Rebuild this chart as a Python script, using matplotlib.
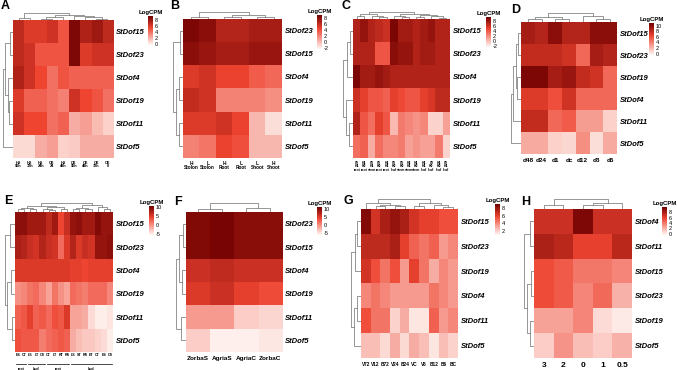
import matplotlib
matplotlib.use("Agg")
import matplotlib.pyplot as plt
import numpy as np
from matplotlib.colors import LinearSegmentedColormap

W, H = 677, 370

# ---- data (LogCPM) ----
A_rows = ["StDof15", "StDof23", "StDof4", "StDof19", "StDof11", "StDof5"]
A_cols = ["HS\n96h", "HS\n72h", "HS\n24h", "CK\n24", "HS\n48h", "CK\n96h", "CK\n48h", "CK\n72h", "CK\n0"]
A_vals = [
    [7.0, 6.0, 6.0, 6.5, 5.0, 9.0, 7.5, 8.0, 7.0],
    [7.0, 6.5, 5.0, 5.0, 5.0, 9.0, 6.0, 6.5, 6.5],
    [7.5, 6.5, 5.5, 4.0, 5.0, 4.5, 4.5, 4.5, 4.5],
    [6.0, 4.5, 4.5, 4.0, 3.5, 6.5, 5.5, 5.0, 4.0],
    [6.5, 5.5, 5.5, 4.0, 4.5, 2.0, 2.5, 1.5, 0.8],
    [0.5, 0.5, 2.0, 2.5, 0.8, 1.0, 2.0, 2.0, 2.0],
]
A_row_tree = (10, (8, (3, 0, 1), (5, 2, (4, 3, 4))), 5)
A_col_tree = (10, (3, 0, 1), (8, (5, (2, 2, 3), 4), (6, 5, (4, 6, (2, 7, 8)))))
A_ticks = [0, 2, 4, 6, 8]

B_rows = ["StDof23", "StDof15", "StDof4", "StDof19", "StDof11", "StDof5"]
B_cols = ["H\nStolon", "L\nStolon", "H\nRoot", "L\nRoot", "L\nShoot", "H\nShoot"]
B_vals = [
    [8.5, 8.0, 6.5, 6.5, 7.0, 7.0],
    [8.0, 7.5, 7.0, 7.0, 7.5, 7.5],
    [5.0, 5.5, 4.5, 4.5, 3.5, 3.0],
    [6.0, 5.5, 2.0, 2.0, 2.0, 1.5],
    [5.0, 5.0, 5.5, 4.5, 0.0, -1.5],
    [2.0, 2.5, 4.5, 4.0, 0.0, 0.0],
]
B_row_tree = (10, (3, 0, 1), (7, (4, 2, 3), (4, 4, 5)))
B_col_tree = (10, (3, 0, 1), (6, (3, 2, 3), (3, 4, 5)))
B_ticks = [-2, 0, 2, 4, 6, 8]

C_rows = ["StDof15", "StDof23", "StDof4", "StDof19", "StDof11", "StDof5"]
C_cols = ["09\nH1\nroot", "H1\nH0\nroot", "09\nH1\nstem", "09\nH0\nroot", "H1\nH1\nroot",
          "09\nH0\nleaf", "09\nH0\nstem", "H1\nH1\nstem", "H1\nH0\nstem", "H1\nH1\nleaf",
          "09\nH0\nleaf", "H1\nH0\nleaf", "09\nH1\nleaf"]
C_vals = [
    [7.0, 8.0, 7.0, 6.5, 6.0, 9.0, 7.5, 7.5, 7.0, 7.5, 8.0, 7.0, 7.0],
    [7.0, 7.0, 7.0, 4.0, 4.0, 8.5, 8.0, 8.0, 7.0, 7.5, 7.5, 7.0, 7.0],
    [9.0, 7.5, 7.5, 8.0, 7.5, 7.0, 7.0, 7.0, 7.0, 7.0, 7.0, 7.0, 7.0],
    [6.0, 5.0, 4.0, 4.0, 3.5, 5.0, 4.5, 4.0, 4.0, 5.0, 5.5, 6.5, 6.5],
    [7.0, 4.0, 3.0, 5.0, 4.0, 0.0, 2.5, 2.0, 1.5, 2.0, -1.0, -1.0, 1.0],
    [3.0, 3.5, 0.5, 3.0, 2.0, 2.0, 2.5, 1.0, 1.5, 1.0, 1.0, 2.5, -1.0],
]
C_row_tree = (10, (6, (3, 0, 1), 2), (7, 3, (4, 4, 5)))
C_col_tree = (10, (7, (4, 0, 1), (5, 2, (3, 3, 4))),
              (8, (4, 5, (3, 6, 7)), (6, (3, 8, 9), (4, 10, (2, 11, 12)))))
C_ticks = [-2, 0, 2, 4, 6, 8]

D_rows = ["StDof15", "StDof23", "StDof19", "StDof4", "StDof11", "StDof5"]
D_cols = ["d48", "d24", "d1", "dc", "d12", "d3", "d6"]
D_vals = [
    [9.0, 8.5, 10.0, 8.5, 8.5, 10.0, 10.0],
    [8.0, 8.0, 8.0, 7.5, 5.0, 9.0, 8.5],
    [10.5, 10.5, 9.0, 9.5, 8.0, 7.5, 5.0],
    [7.0, 7.0, 6.0, 7.5, 5.0, 5.0, 5.0],
    [8.0, 8.0, 5.0, 5.5, 3.0, 3.0, 1.0],
    [2.5, 2.5, 1.0, 0.8, 3.5, 0.5, 2.5],
]
D_row_tree = (10, (8, (5, (3, 0, 1), (4, 2, 3)), 4), 5)
D_col_tree = (10, (6, (3, 0, 1), (4, 2, 3)), (7, 4, (4, 5, 6)))
D_ticks = [0, 2, 4, 6, 8, 10]

E_rows = ["StDof15", "StDof23", "StDof4", "StDof19", "StDof11", "StDof5"]
E_cols = ["ES", "CT", "LS", "LT", "CS", "CT", "LT", "RT", "RS", "LS", "ST", "RS", "ET", "CT", "ES", "CS"]
E_groups = [("root", 0, 2), ("bud", 2, 5), ("root", 5, 9), ("bud", 9, 16)]
E_vals = [
    [9.0, 9.0, 8.0, 8.0, 8.0, 6.5, 8.0, 4.0, 6.0, 8.5, 9.0, 8.0, 8.0, 9.5, 8.5, 8.5],
    [7.5, 7.0, 6.0, 5.5, 7.0, 6.0, 5.5, 2.0, 5.0, 7.0, 5.0, 6.0, 5.5, 8.5, 8.5, 9.0],
    [5.0, 5.0, 5.0, 5.0, 5.0, 5.0, 5.0, 5.0, 5.0, 4.5, 4.5, 4.0, 4.5, 4.5, 4.5, 4.5],
    [0.0, 0.5, 1.5, 2.0, 0.5, -1.0, 1.5, 0.0, -1.0, 2.0, 1.5, 1.0, 2.0, 2.0, 2.0, 0.5],
    [2.5, 3.0, 4.5, 2.5, 3.0, 2.0, 3.5, 3.0, 5.0, -1.0, -1.0, -1.5, -4.0, -5.0, -5.0, -4.5],
    [3.5, 3.0, 3.0, 3.0, 1.0, 2.0, 2.5, 3.0, 2.5, -1.5, -2.5, -3.0, -3.0, -3.5, -4.0, -5.0],
]
E_row_tree = (10, (5, 0, 1), (8, (4, 2, 3), (3, 4, 5)))
E_col_tree = (10, (7, (5, (3, 0, 1), (3, 2, 3)), (6, (3, 4, (2, 5, 6)), (4, 7, 8))),
              (8, (5, (3, 9, 10), (3, 11, 12)), (6, 13, (3, 14, 15))))
E_ticks = [-5, 0, 5, 10]

F_rows = ["StDof23", "StDof15", "StDof4", "StDof19", "StDof11", "StDof5"]
F_cols = ["ZorbaS", "AgriaS", "AgriaC", "ZorbaC"]
F_vals = [
    [10.0, 10.5, 9.5, 9.5],
    [10.0, 10.5, 9.5, 9.5],
    [6.0, 6.5, 6.0, 6.0],
    [5.0, 6.0, 4.5, 3.5],
    [-1.0, -1.0, -4.0, -4.5],
    [-4.0, -6.0, -6.0, -5.5],
]
F_row_tree = (10, (7, (3, 0, 1), (4, 2, 3)), (5, 4, 5))
F_col_tree = (10, (4, 0, 1), (5, 2, 3))
F_ticks = [-5, 0, 5, 10]

G_rows = ["StDof15", "StDof23", "StDof19", "StDof4", "StDof11", "StDof5"]
G_cols = ["V72", "V12", "B72", "V24", "B24", "VC", "V6", "B12", "B6", "BC"]
G_vals = [
    [8.5, 6.5, 7.5, 8.0, 7.5, 6.5, 6.0, 6.0, 5.5, 5.5],
    [7.0, 7.0, 7.0, 7.5, 6.0, 5.0, 4.5, 5.0, 3.5, 4.0],
    [6.5, 5.5, 4.5, 5.5, 3.5, 6.0, 4.5, 3.0, 4.0, 3.5],
    [4.0, 4.5, 4.0, 3.5, 3.5, 3.5, 3.5, 4.5, 4.0, 3.5],
    [5.5, 4.5, 4.5, 2.0, 3.0, 1.5, 1.5, 5.0, 3.5, 4.0],
    [2.5, 2.5, 1.8, 3.0, 1.8, 3.0, 2.5, 1.5, 2.5, 2.0],
]
G_row_tree = (10, (6, (4, 0, 1), 2), (7, (4, 3, 4), 5))
G_col_tree = (10, (6, 0, (4, (3, 1, 2), (3, 3, 4))), (6, (3, 5, 6), (4, 7, (2, 8, 9))))
G_ticks = [2, 4, 6, 8]

H_rows = ["StDof4", "StDof11", "StDof15", "StDof23", "StDof19", "StDof5"]
H_cols = ["3", "2", "0", "1", "0.5"]
H_vals = [
    [7.0, 7.0, 9.5, 7.0, 7.0],
    [8.0, 7.5, 6.0, 6.0, 7.5],
    [5.5, 5.0, 4.0, 4.0, 3.5],
    [5.5, 5.0, 3.5, 4.5, 2.0],
    [2.5, 2.5, 3.5, 0.5, 0.0],
    [1.0, 3.0, 1.5, 1.0, 2.0],
]
H_row_tree = (10, (4, 0, 1), (7, (3, 2, 3), (4, 4, 5)))
H_col_tree = (10, (4, 0, 1), (6, (4, 2, 3), 4))
H_ticks = [0, 2, 4, 6, 8]

plt.rcParams["font.family"] = ["Liberation Sans", "DejaVu Sans"]
plt.rcParams["axes.unicode_minus"] = False
CMAP = LinearSegmentedColormap.from_list(
    "logcpm", [(0.0, "#FFF8F5"), (0.6, "#EE4431"), (1.0, "#700000")])
TREE_COLOR = "#7a7a7a"


def px_axes(fig, x0, y0, x1, y1):
    return fig.add_axes([x0 / W, 1 - y1 / H, (x1 - x0) / W, (y1 - y0) / H])


def draw_tree(ax, node, side):
    if isinstance(node, int):
        return node + 0.5, 0.0
    h, left, right = node
    cl, hl = draw_tree(ax, left, side)
    cr, hr = draw_tree(ax, right, side)
    pos = [cl, cl, cr, cr]
    hts = [hl, h, h, hr]
    if side == "top":
        ax.plot(pos, hts, color=TREE_COLOR, lw=0.55)
    else:
        ax.plot(hts, pos, color=TREE_COLOR, lw=0.55)
    return (cl + cr) / 2, h


def draw_panel(fig, letter, rows, cols, vals, row_tree, col_tree, ticks, lay):
    vals = np.array(vals)
    vmin = min(ticks[0], vals.min()) - 0.5
    vmax = max(ticks[-1], vals.max()) + 0.5
    x0, y0, x1, y1 = lay["heat"]

    ax = px_axes(fig, x0, y0, x1, y1)
    im = ax.imshow(vals, cmap=CMAP, vmin=vmin, vmax=vmax, aspect="auto",
                   interpolation="nearest", extent=(0, len(cols), len(rows), 0))
    ax.set_xlim(0, len(cols))
    ax.set_ylim(len(rows), 0)
    for s in ax.spines.values():
        s.set_visible(False)
    ax.yaxis.tick_right()
    ax.set_yticks(np.arange(len(rows)) + 0.5)
    ax.set_yticklabels(rows, fontsize=5.5, fontweight="bold", fontstyle="italic")
    ax.set_xticks(np.arange(len(cols)) + 0.5)
    ax.set_xticklabels(cols, fontsize=lay["xfs"], fontweight="bold", linespacing=0.9)
    ax.tick_params(length=0, pad=2)
    ax.tick_params(axis="x", pad=lay.get("xpad", 2))

    # dendrograms
    dh = lay["dh"]
    tax = px_axes(fig, x0, y0 - dh, x1, y0)
    draw_tree(tax, col_tree, "top")
    tax.set_xlim(0, len(cols))
    tax.set_ylim(0, col_tree[0] * 1.03)
    tax.axis("off")

    lax = px_axes(fig, x0 - 10.5, y0, x0, y1)
    draw_tree(lax, row_tree, "left")
    lax.set_ylim(len(rows), 0)
    lax.set_xlim(row_tree[0] * 1.03, 0)
    lax.axis("off")

    # colorbar
    cx0, cy0, cx1, cy1 = lay["cbar"]
    cax = px_axes(fig, cx0, cy0, cx1, cy1)
    cb = fig.colorbar(im, cax=cax, ticks=ticks)
    cb.outline.set_visible(False)
    cax.tick_params(labelsize=4, length=0, pad=1.5)
    cax.set_title("LogCPM", fontsize=4.3, fontweight="bold", pad=1.5)

    lx, ly = lay["letter"]
    fig.text(lx / W, 1 - ly / H, letter, fontsize=9, fontweight="bold", va="top", ha="left")
    return ax


fig = plt.figure(figsize=(W / 100, H / 100), dpi=100)

PANELS = [
    ("A", A_rows, A_cols, A_vals, A_row_tree, A_col_tree, A_ticks,
     dict(heat=(13, 20, 113, 158), cbar=(148, 16, 153, 45), letter=(1, 0), dh=7, xfs=2.8)),
    ("B", B_rows, B_cols, B_vals, B_row_tree, B_col_tree, B_ticks,
     dict(heat=(183, 19, 282, 158), cbar=(317, 15, 322, 49), letter=(170, 0), dh=7, xfs=3.4)),
    ("C", C_rows, C_cols, C_vals, C_row_tree, C_col_tree, C_ticks,
     dict(heat=(353, 19, 450, 158), cbar=(486, 17, 491, 47), letter=(341, 0), dh=7, xfs=2.5)),
    ("D", D_rows, D_cols, D_vals, D_row_tree, D_col_tree, D_ticks,
     dict(heat=(521, 22, 617, 154), cbar=(649, 23, 654, 55), letter=(511, 4), dh=9, xfs=4.6, xpad=3)),
    ("E", E_rows, E_cols, E_vals, E_row_tree, E_col_tree, E_ticks,
     dict(heat=(15, 212, 113, 352), cbar=(149, 206, 154, 235), letter=(4, 195), dh=9, xfs=2.6, xpad=1)),
    ("F", F_rows, F_cols, F_vals, F_row_tree, F_col_tree, F_ticks,
     dict(heat=(186, 212, 282, 352), cbar=(317, 207, 322, 235), letter=(174, 196), dh=9, xfs=4.6, xpad=3)),
    ("G", G_rows, G_cols, G_vals, G_row_tree, G_col_tree, G_ticks,
     dict(heat=(361, 209, 458, 358), cbar=(495, 204, 500, 235), letter=(344, 195), dh=10, xfs=3.4, xpad=3)),
    ("H", H_rows, H_cols, H_vals, H_row_tree, H_col_tree, H_ticks,
     dict(heat=(534, 209, 632, 358), cbar=(662, 207, 667, 235), letter=(521, 196), dh=10, xfs=6, xpad=3)),
]

for letter, rows, cols, vals, rtree, ctree, ticks, lay in PANELS:
    ax = draw_panel(fig, letter, rows, cols, vals, rtree, ctree, ticks, lay)
    if letter == "E":
        # tissue groups under the sample labels
        for name, a, b in E_groups:
            ax.plot([a + 0.15, b - 0.15], [-0.085, -0.085], color="black", lw=0.5,
                    transform=ax.get_xaxis_transform(), clip_on=False)
            ax.text((a + b) / 2, -0.105, name, fontsize=2.6, fontweight="bold",
                    ha="center", va="top", transform=ax.get_xaxis_transform())

fig.savefig("out.png", dpi=100)
